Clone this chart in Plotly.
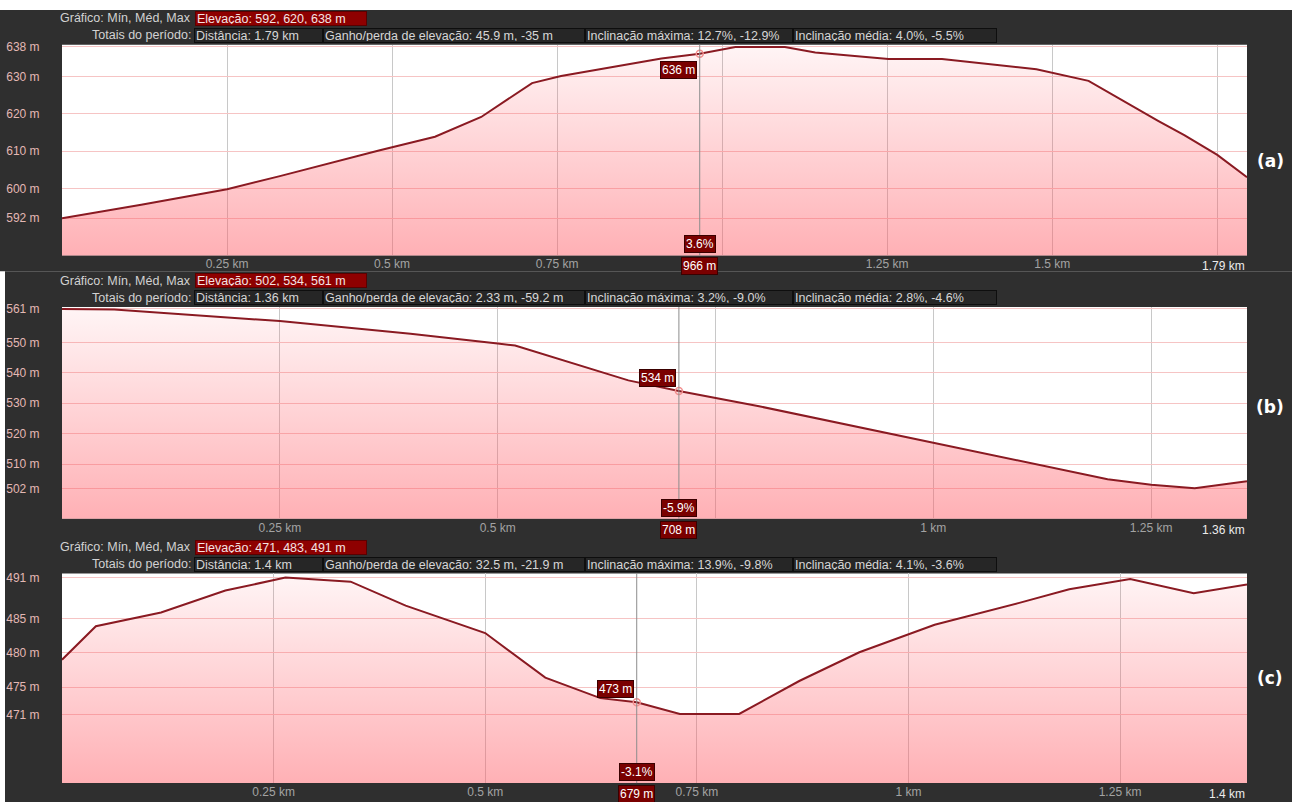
import numpy as np
import plotly.graph_objects as go

# ---------------- data ----------------
A_KM = [0, 0.12, 0.25, 0.33, 0.48, 0.565, 0.635, 0.712, 0.756, 0.908, 0.966, 1.02, 1.095,
        1.141, 1.252, 1.333, 1.476, 1.555, 1.661, 1.70, 1.75, 1.795]
A_ELEV = [592, 595.6, 599.8, 603.3, 610.2, 613.9, 619.2, 628.3, 630.2, 634.9, 636.2, 638, 638,
          636.5, 634.8, 634.8, 632, 628.9, 618.1, 614.3, 609, 603]

B_KM = [0, 0.06, 0.25, 0.4, 0.5, 0.52, 0.65, 0.708, 0.8, 1.0, 1.1, 1.2, 1.25, 1.3, 1.36]
B_ELEV = [561, 560.8, 557, 552.8, 549.6, 549, 537.5, 534, 529, 517, 511, 505, 503.2, 502, 504.3]

C_KM = [0, 0.04, 0.117, 0.193, 0.264, 0.341, 0.406, 0.5, 0.571, 0.636, 0.679, 0.73, 0.80,
        0.871, 0.942, 1.031, 1.131, 1.19, 1.262, 1.337, 1.4]
C_ELEV = [479, 483.9, 485.9, 489.1, 491, 490.4, 486.9, 482.9, 476.4, 473.4, 472.8, 471.1, 471.1,
          475.9, 480.1, 484.1, 487.3, 489.3, 490.8, 488.7, 490]

ELEV_MIN = [592, 502, 471]
ELEV_MAX = [638, 561, 491]
TOTAL_KM = [1.795, 1.36, 1.4]
END_LABELS = ["1.79 km", "1.36 km", "1.4 km"]

Y_TICKS_A = [592, 600, 610, 620, 630, 638]
Y_TICKS_B = [502, 510, 520, 530, 540, 550, 561]
Y_TICKS_C = [471, 475, 480, 485, 491]

ELEV_STATS = ["Elevação: 592, 620, 638 m", "Elevação: 502, 534, 561 m", "Elevação: 471, 483, 491 m"]
DIST_STATS = ["Distância: 1.79 km", "Distância: 1.36 km", "Distância: 1.4 km"]
GAIN_STATS = ["Ganho/perda de elevação: 45.9 m, -35 m",
              "Ganho/perda de elevação: 2.33 m, -59.2 m",
              "Ganho/perda de elevação: 32.5 m, -21.9 m"]
MAXINC_STATS = ["Inclinação máxima: 12.7%, -12.9%", "Inclinação máxima: 3.2%, -9.0%",
                "Inclinação máxima: 13.9%, -9.8%"]
AVGINC_STATS = ["Inclinação média: 4.0%, -5.5%", "Inclinação média: 2.8%, -4.6%",
                "Inclinação média: 4.1%, -3.6%"]

CURSOR_KM = [0.966, 0.708, 0.679]
CURSOR_ELEV_LABEL = ["636 m", "534 m", "473 m"]
CURSOR_SLOPE = ["3.6%", "-5.9%", "-3.1%"]
CURSOR_DIST_LABEL = ["966 m", "708 m", "679 m"]
PANEL_LABELS = ["(a)", "(b)", "(c)"]

# ---------------- style / layout ----------------
W, H = 1292, 802
BG = "#2f2f2f"
FONT = "Liberation Sans, Arial, sans-serif"
LINE = "#8a1a22"
RED_BOX = "#8e0000"
CUR_BOX = "#7a0000"
X0, X1 = 62, 1247
PLOT_TOPS = [40, 304, 572]
PLOT_BOTS = [252, 517, 783]
LABEL_Y = [157, 405, 677]

panels = [(A_KM, A_ELEV, Y_TICKS_A), (B_KM, B_ELEV, Y_TICKS_B), (C_KM, C_ELEV, Y_TICKS_C)]

fig = go.Figure()
layout = dict(width=W, height=H, margin=dict(l=0, r=0, t=0, b=0),
              paper_bgcolor="#ffffff", plot_bgcolor="#ffffff", showlegend=False,
              font=dict(family=FONT, size=12, color="#d0d0d0"))

# dark panel background (white strips remain at the top and lower-left edges)
fig.add_shape(type="rect", xref="paper", yref="paper", x0=0, x1=1, y0=1 - 268 / H, y1=1 - 5 / H,
              fillcolor=BG, line=dict(width=0), layer="below")
fig.add_shape(type="rect", xref="paper", yref="paper", x0=5 / W, x1=1, y0=0, y1=1 - 268 / H,
              fillcolor=BG, line=dict(width=0), layer="below")


def ann_box(text, left, right, top, bg, border, color):
    fig.add_annotation(xref="paper", yref="paper", x=left / W, y=1 - top / H,
                       xanchor="left", yanchor="top", text=text, showarrow=False,
                       width=right - left - 4, height=11, align="left",
                       bgcolor=bg, bordercolor=border, borderwidth=1, borderpad=1,
                       font=dict(family=FONT, size=12.5, color=color))


for i, (km, elev, yticks) in enumerate(panels):
    sfx = "" if i == 0 else str(i + 1)
    xa, ya = "x" + sfx, "y" + sfx
    lo, hi = ELEV_MIN[i] - 10, ELEV_MAX[i] + 0.6
    total = TOTAL_KM[i]
    cur = CURSOR_KM[i]

    # white plot area over the dark panel background
    fig.add_shape(type="rect", xref=xa + " domain", yref=ya + " domain", x0=0, x1=1, y0=0, y1=1,
                  fillcolor="#ffffff", line=dict(width=0), layer="below")

    fig.add_trace(go.Scatter(
        x=km, y=elev, xaxis=xa, yaxis=ya, mode="lines",
        line=dict(color=LINE, width=2), fill="tozeroy",
        fillgradient=dict(type="vertical",
                          colorscale=[[0, "rgba(255,90,100,0.48)"], [1, "rgba(255,90,100,0.06)"]],
                          start=lo, stop=hi),
        hoverinfo="skip"))

    # x ticks every 0.25 km, label hidden where it would collide with cursor or end labels
    grid = list(np.arange(0.25, total, 0.25))
    ttext = []
    for v in grid:
        if abs(v - cur) < 0.05 or abs(total - v) < 0.06:
            ttext.append("")
        else:
            ttext.append(f"{v:g} km")

    layout["xaxis" + sfx] = dict(
        domain=[X0 / W, X1 / W], range=[0, total], anchor=ya,
        tickvals=grid, ticktext=ttext, showgrid=True, gridcolor="#c8c8c8", gridwidth=1,
        zeroline=False, showline=False, ticks="", ticklabelstandoff=0,
        tickfont=dict(family=FONT, size=12, color="#a3a3a3"))
    layout["yaxis" + sfx] = dict(
        domain=[1 - PLOT_BOTS[i] / H, 1 - PLOT_TOPS[i] / H], range=[lo, hi], anchor=xa,
        tickvals=yticks, ticktext=[f"{v} m" for v in yticks],
        showgrid=True, gridcolor="#f6c4c4", gridwidth=1,
        zeroline=False, showline=False, ticks="outside", ticklen=19, tickcolor=BG,
        tickfont=dict(family=FONT, size=12, color="#e3b8b4"))

    # end label
    fig.add_annotation(xref=xa + " domain", yref=ya + " domain", x=1, y=0,
                       xanchor="right", yanchor="top", yshift=-2, showarrow=False,
                       text=END_LABELS[i], font=dict(family=FONT, size=12, color="#ececec"))

    # cursor
    cur_y = float(np.interp(cur, km, elev))
    fig.add_shape(type="line", xref=xa, yref=ya + " domain", x0=cur, x1=cur, y0=0, y1=1,
                  line=dict(color="#8c8c8c", width=1))
    fig.add_trace(go.Scatter(x=[cur], y=[cur_y], xaxis=xa, yaxis=ya, mode="markers",
                             marker=dict(symbol="circle-open", size=7, color="#f29090",
                                         line=dict(width=1.5)),
                             hoverinfo="skip"))
    near_top = (cur_y - lo) / (hi - lo) > 0.85
    fig.add_annotation(xref=xa, yref=ya, x=cur, y=cur_y, xanchor="right",
                       yanchor="top" if near_top else "bottom",
                       xshift=-3, yshift=-7 if near_top else 4, showarrow=False,
                       text=CURSOR_ELEV_LABEL[i], bgcolor=CUR_BOX, bordercolor="#3a0000",
                       borderwidth=1, borderpad=1,
                       font=dict(family=FONT, size=12, color="#ffffff"))
    fig.add_annotation(xref=xa, yref=ya + " domain", x=cur, y=0, xanchor="center",
                       yanchor="bottom", yshift=2, showarrow=False,
                       text=CURSOR_SLOPE[i], bgcolor=CUR_BOX, bordercolor="#3a0000",
                       borderwidth=1, borderpad=1,
                       font=dict(family=FONT, size=12, color="#ffffff"))
    fig.add_annotation(xref=xa, yref=ya + " domain", x=cur, y=0, xanchor="center",
                       yanchor="top", yshift=-2, showarrow=False,
                       text=CURSOR_DIST_LABEL[i], bgcolor=CUR_BOX, bordercolor="#3a0000",
                       borderwidth=1, borderpad=1,
                       font=dict(family=FONT, size=12, color="#ffffff"))

    # headers
    t1 = PLOT_TOPS[i] - 34
    t2 = PLOT_TOPS[i] - 17
    fig.add_annotation(xref="paper", yref="paper", x=193 / W, y=1 - (t1 + 7.5) / H,
                       xanchor="right", yanchor="middle", showarrow=False,
                       text="Gráfico: Mín, Méd, Max",
                       font=dict(family=FONT, size=12.5, color="#d2d2d2"))
    ann_box(ELEV_STATS[i], 195, 367, t1, RED_BOX, "#5a0000", "#f4e4e4")
    fig.add_annotation(xref="paper", yref="paper", x=193 / W, y=1 - (t2 + 7.5) / H,
                       xanchor="right", yanchor="middle", showarrow=False,
                       text="Totais do período:",
                       font=dict(family=FONT, size=12.5, color="#d2d2d2"))
    ann_box(DIST_STATS[i], 194, 323, t2, "#262626", "#0e0e0e", "#d6d6d6")
    ann_box(GAIN_STATS[i], 323, 585, t2, "#262626", "#0e0e0e", "#d6d6d6")
    ann_box(MAXINC_STATS[i], 585, 793, t2, "#262626", "#0e0e0e", "#d6d6d6")
    ann_box(AVGINC_STATS[i], 793, 997, t2, "#262626", "#0e0e0e", "#d6d6d6")

    # panel label
    fig.add_annotation(xref="paper", yref="paper", x=1270 / W, y=1 - LABEL_Y[i] / H,
                       xanchor="center", yanchor="middle", showarrow=False,
                       text="<b>" + PANEL_LABELS[i] + "</b>",
                       font=dict(family="DejaVu Sans, Verdana, sans-serif", size=17,
                                 color="#ffffff"))

fig.update_layout(**layout)
fig.write_html("out.html")
